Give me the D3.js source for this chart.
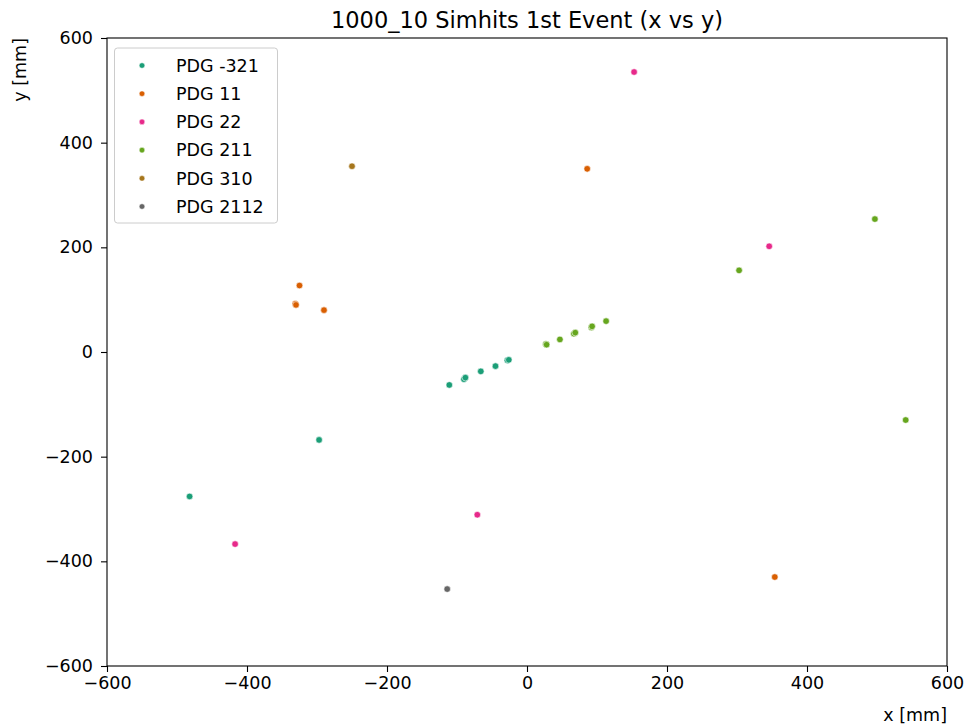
<!DOCTYPE html>
<html lang="en">
  <head>
    <meta charset="utf-8" />
    <script src="https://cdn.jsdelivr.net/npm/d3@7/dist/d3.min.js"></script>
    <title>1000_10 Simhits 1st Event (x vs y)</title>
    <style>
      body { margin: 0; background: #fff; }
      text { font-family: "DejaVu Sans", sans-serif; fill: #000; }
    </style>
  </head>
  <body>
    <div id="container"></div>

    <script>
      const width = 968;
      const height = 727;
      const margin = { top: 38, right: 21, bottom: 61, left: 107 };

      // hits per particle type
      const pdgLabels = ["PDG -321", "PDG 11", "PDG 22", "PDG 211", "PDG 310", "PDG 2112"];
      const pdgColors = ["#1b9e77", "#d95f02", "#e7298a", "#66a61e", "#a6761d", "#666666"];
      const hitsX = [
        [-482, -297, -111, -90, -88, -66, -45, -28, -26],
        [-325, -331, -330, -290, 86, 354],
        [153, 346, -71, -417],
        [27, 28, 47, 67, 69, 92, 93, 113, 303, 497, 541],
        [-250],
        [-114]
      ];
      const hitsY = [
        [-276, -168, -63, -52, -49, -37, -27, -16, -15],
        [127, 92, 90, 80, 350, -430],
        [535, 202, -311, -367],
        [15, 14, 24, 35, 37, 47, 49, 59, 156, 254, -130],
        [355],
        [-453]
      ];
      const tickValues = [-600, -400, -200, 0, 200, 400, 600];

      const svg = d3.select("#container").append("svg").attr("width", width).attr("height", height);

      const x = d3.scaleLinear().domain([-600, 600]).range([margin.left, width - margin.right]);
      const y = d3.scaleLinear().domain([-600, 600]).range([height - margin.bottom, margin.top]);

      const fmt = (d) => (d < 0 ? "\u2212" + Math.abs(d) : "" + d);

      // axes
      const xAxis = svg.append("g")
        .attr("transform", `translate(0,${height - margin.bottom})`)
        .call(d3.axisBottom(x).tickValues(tickValues).tickFormat(fmt).tickSize(6).tickPadding(5));
      const yAxis = svg.append("g")
        .attr("transform", `translate(${margin.left},0)`)
        .call(d3.axisLeft(y).tickValues(tickValues).tickFormat(fmt).tickSize(6).tickPadding(8));
      [xAxis, yAxis].forEach((g) => {
        g.select(".domain").remove();
        g.selectAll("line").attr("stroke", "#000").attr("stroke-width", 1.1);
        g.selectAll("text").attr("font-size", 17.5).attr("font-family", "DejaVu Sans").attr("fill", "#000");
      });

      // frame
      svg.append("rect")
        .attr("x", margin.left).attr("y", margin.top)
        .attr("width", width - margin.left - margin.right)
        .attr("height", height - margin.top - margin.bottom)
        .attr("fill", "none").attr("stroke", "#000").attr("stroke-width", 1.1);

      // points
      const plot = svg.append("g");
      pdgLabels.forEach((lab, i) => {
        const pts = hitsX[i].map((v, j) => [v, hitsY[i][j]]);
        plot.selectAll(null).data(pts).enter().append("circle")
          .attr("cx", (d) => x(d[0])).attr("cy", (d) => y(d[1]))
          .attr("r", 3.3)
          .attr("fill", pdgColors[i])
          .attr("stroke", "#fff").attr("stroke-width", 0.6);
      });

      // title and labels
      svg.append("text")
        .attr("x", (margin.left + width - margin.right) / 2).attr("y", 28)
        .attr("text-anchor", "middle").attr("font-size", 22.5)
        .text("1000_10 Simhits 1st Event (x vs y)");
      svg.append("text")
        .attr("x", width - margin.right).attr("y", 721)
        .attr("text-anchor", "end").attr("font-size", 17.5)
        .text("x [mm]");
      svg.append("text")
        .attr("transform", `translate(26,${margin.top}) rotate(-90)`)
        .attr("text-anchor", "end").attr("font-size", 17.5)
        .text("y [mm]");

      // legend
      const legend = svg.append("g");
      legend.append("rect")
        .attr("x", 114.5).attr("y", 48).attr("width", 163).attr("height", 175)
        .attr("rx", 3).attr("fill", "#fff").attr("fill-opacity", 0.8)
        .attr("stroke", "#ccc").attr("stroke-width", 1);
      pdgLabels.forEach((lab, i) => {
        const ly = 65.5 + i * 28.2;
        legend.append("circle").attr("cx", 142).attr("cy", ly).attr("r", 2.8)
          .attr("fill", pdgColors[i]).attr("stroke", "#fff").attr("stroke-width", 0.5);
        legend.append("text").attr("x", 176).attr("y", ly + 6.3)
          .attr("font-size", 17.5).text(lab);
      });
    </script>
  </body>
</html>
